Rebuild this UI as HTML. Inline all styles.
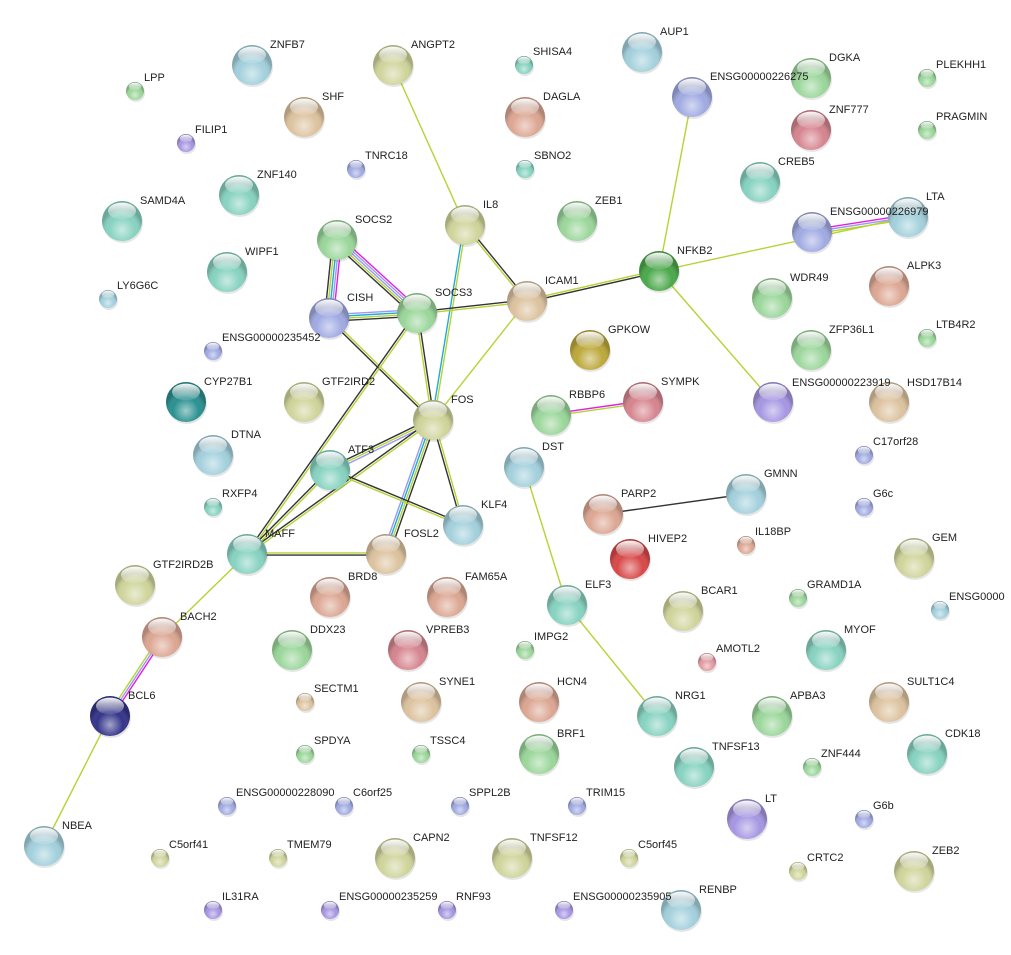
<!DOCTYPE html>
<html><head><meta charset="utf-8"><style>
html,body{margin:0;padding:0;background:#fff;}
svg{display:block;}
text{font-family:"Liberation Sans",sans-serif;font-size:11px;fill:#222;}
</style></head><body>
<svg id="s" width="1011" height="955" viewBox="0 0 1011 955" xmlns="http://www.w3.org/2000/svg">
<defs id="d"></defs>
<g id="e"></g>
<g id="n"></g>
<g id="t">
<text x="270" y="48">ZNFB7</text><text x="411" y="48">ANGPT2</text><text x="660" y="35">AUP1</text>
<text x="829" y="61">DGKA</text><text x="829" y="113">ZNF777</text><text x="322" y="100">SHF</text>
<text x="543" y="100">DAGLA</text><text x="710" y="80">ENSG00000226275</text><text x="778" y="165">CREB5</text>
<text x="257" y="178">ZNF140</text><text x="140" y="204">SAMD4A</text><text x="483" y="208">IL8</text>
<text x="595" y="204">ZEB1</text><text x="926" y="200">LTA</text><text x="830" y="215">ENSG00000226979</text>
<text x="355" y="223">SOCS2</text><text x="677" y="254">NFKB2</text><text x="245" y="255">WIPF1</text>
<text x="907" y="269">ALPK3</text><text x="790" y="281">WDR49</text><text x="347" y="301">CISH</text>
<text x="435" y="296">SOCS3</text><text x="545" y="284">ICAM1</text><text x="608" y="333">GPKOW</text>
<text x="829" y="333">ZFP36L1</text><text x="204" y="385">CYP27B1</text><text x="322" y="385">GTF2IRD2</text>
<text x="451" y="403">FOS</text><text x="569" y="398">RBBP6</text><text x="661" y="385">SYMPK</text>
<text x="792" y="386">ENSG00000223919</text><text x="907" y="386">HSD17B14</text><text x="231" y="438">DTNA</text>
<text x="542" y="450">DST</text><text x="348" y="453">ATF3</text><text x="764" y="477">GMNN</text>
<text x="481" y="508">KLF4</text><text x="621" y="497">PARP2</text><text x="265" y="537">MAFF</text>
<text x="404" y="537">FOSL2</text><text x="648" y="542">HIVEP2</text><text x="932" y="541">GEM</text>
<text x="153" y="568">GTF2IRD2B</text><text x="348" y="580">BRD8</text><text x="465" y="580">FAM65A</text>
<text x="585" y="588">ELF3</text><text x="701" y="594">BCAR1</text><text x="180" y="620">BACH2</text>
<text x="310" y="633">DDX23</text><text x="426" y="633">VPREB3</text><text x="844" y="633">MYOF</text>
<text x="439" y="685">SYNE1</text><text x="557" y="685">HCN4</text><text x="675" y="699">NRG1</text>
<text x="790" y="699">APBA3</text><text x="907" y="685">SULT1C4</text><text x="128" y="699">BCL6</text>
<text x="945" y="737">CDK18</text><text x="557" y="737">BRF1</text><text x="712" y="750">TNFSF13</text>
<text x="765" y="802">LT</text><text x="62" y="829">NBEA</text><text x="413" y="841">CAPN2</text>
<text x="530" y="841">TNFSF12</text><text x="932" y="854">ZEB2</text><text x="699" y="893">RENBP</text>
<text x="144" y="81">LPP</text><text x="195" y="133">FILIP1</text><text x="533" y="55">SHISA4</text>
<text x="936" y="68">PLEKHH1</text><text x="936" y="120">PRAGMIN</text><text x="365" y="159">TNRC18</text>
<text x="534" y="159">SBNO2</text><text x="117" y="289">LY6G6C</text><text x="936" y="328">LTB4R2</text>
<text x="222" y="341">ENSG00000235452</text><text x="873" y="445">C17orf28</text><text x="222" y="497">RXFP4</text>
<text x="873" y="497">G6c</text><text x="755" y="535">IL18BP</text><text x="807" y="588">GRAMD1A</text>
<text x="949" y="600">ENSG0000</text><text x="534" y="640">IMPG2</text><text x="716" y="652">AMOTL2</text>
<text x="314" y="692">SECTM1</text><text x="314" y="744">SPDYA</text><text x="430" y="744">TSSC4</text>
<text x="821" y="757">ZNF444</text><text x="236" y="796">ENSG00000228090</text><text x="353" y="796">C6orf25</text>
<text x="469" y="796">SPPL2B</text><text x="586" y="796">TRIM15</text><text x="873" y="809">G6b</text>
<text x="169" y="848">C5orf41</text><text x="287" y="848">TMEM79</text><text x="638" y="848">C5orf45</text>
<text x="807" y="861">CRTC2</text><text x="222" y="900">IL31RA</text><text x="339" y="900">ENSG00000235259</text>
<text x="456" y="900">RNF93</text><text x="573" y="900">ENSG00000235905</text>
</g>
</svg>
<script>
var C={teal:'#86d2c0',green:'#9ad69a',olive:'#cfd49a',tan:'#dcc29e',salmon:'#dca692',lb:'#a2d0dc',blue:'#a0aae2',purple:'#a696e2',red:'#d84848',pink:'#e29aa0',dteal:'#2a9090',navy:'#34348a',gold:'#bca83a',dgreen:'#4aa84a',rose:'#d6848e'};
var B=[
['ZNFB7',252,65,'lb'],['ANGPT2',393,65,'olive'],['AUP1',642,52,'lb'],['DGKA',811,78,'green'],['ZNF777',811,130,'rose'],
['SHF',304,117,'tan'],['DAGLA',525,117,'salmon'],['E226275',692,97,'blue'],['CREB5',760,182,'teal'],['ZNF140',239,195,'teal'],
['SAMD4A',122,221,'teal'],['IL8',465,225,'olive'],['ZEB1',577,221,'green'],['LTA',908,217,'lb'],['E226979',812,232,'blue'],
['SOCS2',337,240,'green'],['NFKB2',659,271,'dgreen'],['WIPF1',227,272,'teal'],['ALPK3',889,286,'salmon'],['WDR49',772,298,'green'],
['CISH',329,318,'blue'],['SOCS3',417,313,'green'],['ICAM1',527,301,'tan'],['GPKOW',590,350,'gold'],['ZFP36L1',811,350,'green'],
['CYP27B1',186,402,'dteal'],['GTF2IRD2',304,402,'olive'],['FOS',433,420,'olive'],['RBBP6',551,415,'green'],['SYMPK',643,402,'rose'],
['E223919',773,402,'purple'],['HSD17B14',889,402,'tan'],['DTNA',213,455,'lb'],['DST',524,467,'lb'],['ATF3',330,470,'teal'],
['GMNN',746,494,'lb'],['KLF4',463,525,'lb'],['PARP2',603,514,'salmon'],['MAFF',247,554,'teal'],['FOSL2',386,554,'tan'],
['HIVEP2',630,559,'red'],['GEM',914,558,'olive'],['GTF2IRD2B',135,585,'olive'],['BRD8',330,597,'salmon'],['FAM65A',447,597,'salmon'],
['ELF3',567,605,'teal'],['BCAR1',683,611,'olive'],['BACH2',162,637,'salmon'],['DDX23',292,650,'green'],['VPREB3',408,650,'rose'],
['MYOF',826,650,'teal'],['SYNE1',421,702,'tan'],['HCN4',539,702,'salmon'],['NRG1',657,716,'teal'],['APBA3',772,716,'green'],
['SULT1C4',889,702,'tan'],['BCL6',110,716,'navy'],['CDK18',927,754,'teal'],['BRF1',539,754,'green'],['TNFSF13',694,767,'teal'],
['LT',747,819,'purple'],['NBEA',44,846,'lb'],['CAPN2',395,858,'olive'],['TNFSF12',512,858,'olive'],['ZEB2',914,871,'olive'],['RENBP',681,910,'lb']];
var S=[[135,91,'green'],[186,143,'purple'],[524,65,'teal'],[927,78,'green'],[927,130,'green'],[356,169,'blue'],[525,169,'teal'],
[108,299,'lb'],[927,338,'green'],[213,351,'blue'],[864,455,'blue'],[213,507,'teal'],[864,507,'blue'],[746,545,'salmon'],
[798,598,'green'],[940,610,'lb'],[525,650,'green'],[707,662,'pink'],[305,702,'tan'],[305,754,'green'],[421,754,'green'],
[812,767,'green'],[227,806,'blue'],[344,806,'blue'],[460,806,'blue'],[577,806,'blue'],[864,819,'blue'],[160,858,'olive'],
[278,858,'olive'],[629,858,'olive'],[798,871,'olive'],[213,910,'purple'],[330,910,'purple'],[447,910,'purple'],[564,910,'purple']];
var P={};B.forEach(function(b){P[b[0]]=[b[1],b[2]];});
var ns='http://www.w3.org/2000/svg';
function el(t,a,p){var e=document.createElementNS(ns,t);for(var k in a)e.setAttribute(k,a[k]);p.appendChild(e);return e;}
var d=document.getElementById('d');
for(var k in C){var g=el('radialGradient',{id:'g'+k,cx:'50%',cy:'60%',r:'55%'},d);
el('stop',{offset:'0%','stop-color':C[k]},g);
el('stop',{offset:'100%','stop-color':C[k]},g);
var g2=el('radialGradient',{id:'h'+k,cx:'50%',cy:'72%',r:'55%'},d);
el('stop',{offset:'0%','stop-color':'#fff','stop-opacity':'0.55'},g2);
el('stop',{offset:'60%','stop-color':'#fff','stop-opacity':'0'},g2);
el('stop',{offset:'95%','stop-color':'#000','stop-opacity':'0.2'},g2);}
var hl=el('linearGradient',{id:'hl',x1:0,y1:0,x2:0,y2:1},d);
el('stop',{offset:'0%','stop-color':'#fff','stop-opacity':'0.95'},hl);
el('stop',{offset:'100%','stop-color':'#fff','stop-opacity':'0.1'},hl);
var col={k:'#333',y:'#b5d334',c:'#20a8e0',m:'#e020e0',p:'#9a9af5'};
var E=[['ANGPT2','IL8','y'],['IL8','ICAM1','ky'],['IL8','FOS','yc'],['ICAM1','NFKB2','yk'],['ICAM1','SOCS3','yk'],['ICAM1','FOS','y'],
['E226275','NFKB2','y'],['NFKB2','LTA','y'],['E226979','LTA','mpy'],['NFKB2','E223919','y'],
['SOCS2','CISH','mpcyk'],['SOCS2','SOCS3','mppyk'],['CISH','SOCS3','pcyk'],['CISH','FOS','yk'],['SOCS3','FOS','ky'],
['SOCS3','MAFF','yk'],['FOS','ATF3','pyk'],['FOS','MAFF','yk'],['FOS','FOSL2','kycp'],['FOS','KLF4','yk'],
['ATF3','KLF4','ky'],['ATF3','MAFF','yk'],['MAFF','FOSL2','yk'],['RBBP6','SYMPK','my'],['PARP2','GMNN','k'],
['DST','ELF3','y'],['ELF3','NRG1','y'],['BACH2','MAFF','y'],['BACH2','BCL6','mpy'],['BCL6','NBEA','y']];
var eg=document.getElementById('e');
E.forEach(function(e){var a=P[e[0]],b=P[e[1]],dx=b[0]-a[0],dy=b[1]-a[1],L=Math.sqrt(dx*dx+dy*dy),nx=-dy/L,ny=dx/L,n=e[2].length;
for(var i=0;i<n;i++){var o=(i-(n-1)/2)*2.2;el('line',{x1:a[0]+nx*o,y1:a[1]+ny*o,x2:b[0]+nx*o,y2:b[1]+ny*o,stroke:col[e[2][i]],'stroke-width':1.4},eg);}});
var ng=document.getElementById('n');
function node(x,y,r,c){el('circle',{cx:x+1,cy:y+2,r:r,fill:'#000',opacity:0.1},ng);
el('circle',{cx:x,cy:y,r:r,fill:'url(#g'+c+')'},ng);
el('circle',{cx:x,cy:y,r:r,fill:'url(#h'+c+')'},ng);
el('ellipse',{cx:x,cy:y-r*0.5,rx:r*0.7,ry:r*0.42,fill:'url(#hl)'},ng);}
B.forEach(function(b){node(b[1],b[2],20,b[3]);});
S.forEach(function(s){node(s[0],s[1],9,s[2]);});
</script>
</body></html>
